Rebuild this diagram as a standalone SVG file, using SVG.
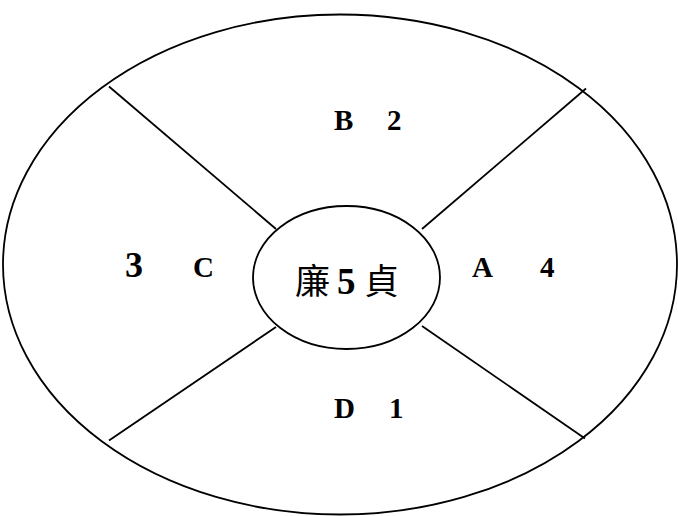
<svg xmlns="http://www.w3.org/2000/svg" width="678" height="516" viewBox="0 0 678 516">
<style>
.shape{fill:none;stroke:#000;stroke-width:1.8}
.fill{fill:#fff;stroke:#000;stroke-width:1.8}
.lbl{font-family:"Liberation Serif","Times New Roman",serif;font-weight:bold;font-size:29px;fill:#000}
.cjk{font-family:"Noto Sans CJK TC","Noto Sans CJK SC",sans-serif;font-size:35px;fill:#000}
</style>
<rect width="678" height="516" fill="#fff"/>
<g id="outer">
<ellipse class="shape" cx="340" cy="264.5" rx="337" ry="250"/>
</g>
<g id="connectors">
<line class="shape" x1="109" y1="86.5" x2="276" y2="229"/>
<line class="shape" x1="586" y1="88.5" x2="422" y2="229"/>
<line class="shape" x1="109" y1="440.5" x2="276" y2="327"/>
<line class="shape" x1="585" y1="438.5" x2="422" y2="326"/>
</g>
<g id="center">
<ellipse class="fill" cx="346.5" cy="277.5" rx="93.5" ry="71.5"/>
<text y="294"><tspan class="cjk" x="295">廉</tspan><tspan class="lbl" x="337" style="font-size:37px">5</tspan><tspan class="cjk" x="364">貞</tspan></text>
</g>
<g id="B"><text class="lbl" x="334" y="130">B</text><text class="lbl" x="387" y="130">2</text></g>
<g id="C"><text class="lbl" x="125" y="277" style="font-size:36px">3</text><text class="lbl" x="193" y="277">C</text></g>
<g id="A"><text class="lbl" x="472" y="277">A</text><text class="lbl" x="540" y="277">4</text></g>
<g id="D"><text class="lbl" x="334" y="418">D</text><text class="lbl" x="389" y="418">1</text></g>
</svg>
